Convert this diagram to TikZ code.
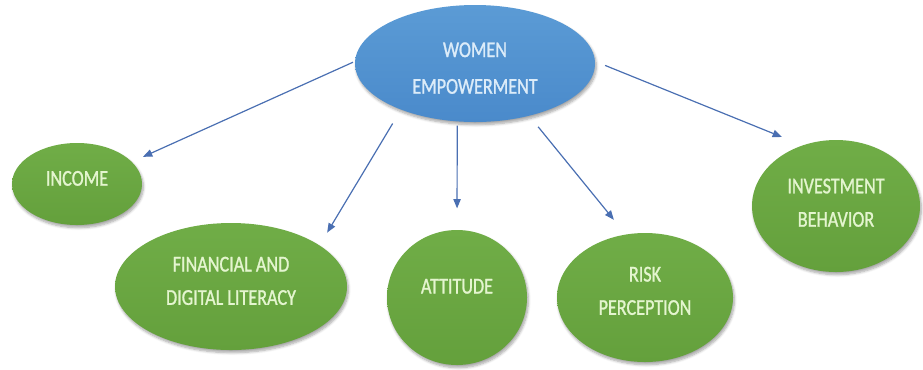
\documentclass[tikz,border=0pt]{standalone}
\usepackage{fontspec}
\setmainfont{Carlito}[FakeStretch=0.8,FakeBold=1.1]
\usepackage{xcolor}
\usepackage{tikz}
\usetikzlibrary{arrows.meta,shapes.geometric,shadows.blur}
\definecolor{coreb}{HTML}{5B9BD5}
\definecolor{coredk}{HTML}{4A8ACB}
\definecolor{leafg}{HTML}{70AD47}
\definecolor{leafdk}{HTML}{64A03C}
\definecolor{leaftx}{HTML}{E4F5CF}
\definecolor{coretx}{HTML}{DCECF9}
\definecolor{linkc}{HTML}{4A6FB2}
% text lifted inside its bubble, box size kept
\newcommand\liftby[2]{\raisebox{#1}[\height][\depth]{\begin{tabular}{@{}c@{}}#2\end{tabular}}}
\tikzset{
  core/.style={ellipse,inner sep=0pt,top color=coreb,bottom color=coredk,
    text=coretx,font=\fontsize{17}{27.5}\selectfont,
    blur shadow={shadow xshift=1pt,shadow yshift=-2pt,shadow blur steps=6,shadow opacity=35}},
  leaf/.style={ellipse,inner sep=0pt,top color=leafg,bottom color=leafdk,
    text=leaftx,font=\fontsize{17}{25}\selectfont,
    blur shadow={shadow xshift=1pt,shadow yshift=-2pt,shadow blur steps=6,shadow opacity=35}},
  ar/.style={-{Triangle[length=7pt,width=5.5pt]},line width=0.9pt,linkc}
}
\begin{document}
\begin{tikzpicture}[x=0.75pt,y=-0.75pt]
\useasboundingbox (0,0) rectangle (923,369);
% centre and outer ring
\node[core,minimum width=180pt,minimum height=87.75pt] (women) at (475,63.5) {\liftby{-3.4pt}{WOMEN\\EMPOWERMENT}};
\node[leaf,minimum width=97.5pt,minimum height=61.5pt] (income) at (77,184) {\liftby{3.75pt}{INCOME}};
\node[leaf,minimum width=174pt,minimum height=95.25pt] (lit) at (231,286.5) {\liftby{3.75pt}{FINANCIAL AND\\DIGITAL LITERACY}};
\node[leaf,minimum width=105pt,minimum height=101.25pt] (att) at (457,297.5) {\liftby{8pt}{ATTITUDE}};
\node[leaf,minimum width=132pt,minimum height=96.75pt] (risk) at (645,297.5) {\liftby{4.5pt}{RISK\\PERCEPTION}};
\node[leaf,minimum width=126pt,minimum height=99pt] (inv) at (836,206) {\liftby{2pt}{INVESTMENT\\BEHAVIOR}};
% links
\draw[ar,shorten <=1.5pt,shorten >=9pt] (women.179) -- (income.22);
\draw[ar,shorten <=12pt,shorten >=11pt] (women.212.7) -- (lit.25.5);
\draw[ar,shorten <=3pt,shorten >=16pt] (women.253) -- (att.90);
\draw[ar,shorten <=10.5pt,shorten >=14pt] (women.316.8) -- (risk.107.5);
\draw[ar,shorten <=8pt,shorten >=16.5pt] (women.1.5) -- (inv.119);
\end{tikzpicture}
\end{document}
